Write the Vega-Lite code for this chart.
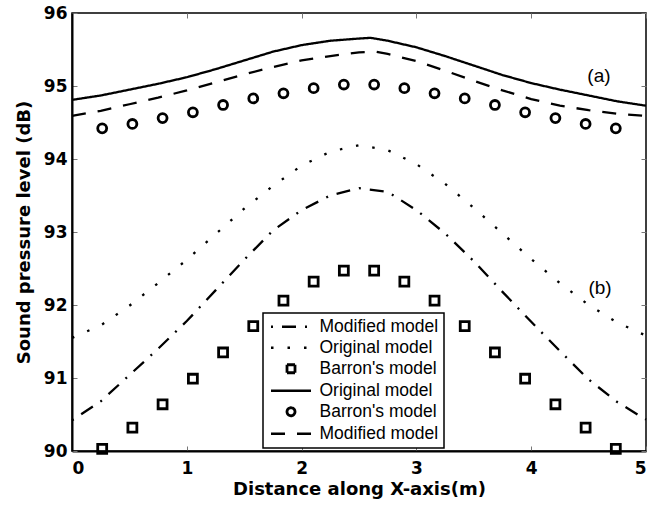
{
  "$schema": "https://vega.github.io/schema/vega-lite/v6.json",
  "width": 574,
  "height": 438,
  "autosize": "none",
  "padding": {"left": 72, "top": 13, "right": 14, "bottom": 55},
  "background": "white",
  "config": {
    "view": {"stroke": "black", "strokeWidth": 1.5},
    "axis": {
      "domainColor": "black", "domainWidth": 2,
      "tickColor": "#777", "tickWidth": 1, "tickSize": -5,
      "grid": false,
      "labelFont": "DejaVu Sans", "labelFontWeight": "bold", "labelFontSize": 17, "labelColor": "black",
      "titleFont": "DejaVu Sans", "titleFontWeight": "bold", "titleFontSize": 18, "titleColor": "black"
    },
    "legend": {
      "labelFont": "Liberation Sans", "labelFontSize": 17.5, "labelColor": "black"
    }
  },
  "datasets": {
    "lines": [
      {"s":"ao","x":0,"y":94.81},{"s":"ao","x":0.25,"y":94.87},{"s":"ao","x":0.5,"y":94.95},{"s":"ao","x":0.75,"y":95.03},{"s":"ao","x":1,"y":95.12},{"s":"ao","x":1.25,"y":95.23},{"s":"ao","x":1.5,"y":95.35},{"s":"ao","x":1.75,"y":95.47},{"s":"ao","x":2,"y":95.56},{"s":"ao","x":2.25,"y":95.62},{"s":"ao","x":2.5,"y":95.65},{"s":"ao","x":2.6,"y":95.66},{"s":"ao","x":2.75,"y":95.62},{"s":"ao","x":3,"y":95.53},{"s":"ao","x":3.25,"y":95.41},{"s":"ao","x":3.5,"y":95.28},{"s":"ao","x":3.75,"y":95.15},{"s":"ao","x":4,"y":95.04},{"s":"ao","x":4.25,"y":94.95},{"s":"ao","x":4.5,"y":94.87},{"s":"ao","x":4.75,"y":94.79},{"s":"ao","x":5,"y":94.73},
      {"s":"am","x":0,"y":94.59},{"s":"am","x":0.25,"y":94.66},{"s":"am","x":0.5,"y":94.75},{"s":"am","x":0.75,"y":94.84},{"s":"am","x":1,"y":94.94},{"s":"am","x":1.25,"y":95.05},{"s":"am","x":1.5,"y":95.16},{"s":"am","x":1.75,"y":95.26},{"s":"am","x":2,"y":95.35},{"s":"am","x":2.25,"y":95.41},{"s":"am","x":2.5,"y":95.46},{"s":"am","x":2.65,"y":95.47},{"s":"am","x":2.75,"y":95.44},{"s":"am","x":3,"y":95.34},{"s":"am","x":3.25,"y":95.21},{"s":"am","x":3.5,"y":95.07},{"s":"am","x":3.75,"y":94.94},{"s":"am","x":4,"y":94.82},{"s":"am","x":4.25,"y":94.73},{"s":"am","x":4.5,"y":94.67},{"s":"am","x":4.75,"y":94.62},{"s":"am","x":5,"y":94.59},
      {"s":"bo","x":0,"y":91.55},{"s":"bo","x":0.25,"y":91.72},{"s":"bo","x":0.5,"y":91.99},{"s":"bo","x":0.75,"y":92.3},{"s":"bo","x":1,"y":92.62},{"s":"bo","x":1.25,"y":92.97},{"s":"bo","x":1.5,"y":93.32},{"s":"bo","x":1.75,"y":93.63},{"s":"bo","x":2,"y":93.91},{"s":"bo","x":2.25,"y":94.1},{"s":"bo","x":2.5,"y":94.19},{"s":"bo","x":2.75,"y":94.12},{"s":"bo","x":3,"y":93.93},{"s":"bo","x":3.25,"y":93.66},{"s":"bo","x":3.5,"y":93.33},{"s":"bo","x":3.75,"y":92.98},{"s":"bo","x":4,"y":92.63},{"s":"bo","x":4.25,"y":92.3},{"s":"bo","x":4.5,"y":92.0},{"s":"bo","x":4.75,"y":91.76},{"s":"bo","x":5,"y":91.58},
      {"s":"bm","x":0,"y":90.42},{"s":"bm","x":0.25,"y":90.68},{"s":"bm","x":0.5,"y":91.04},{"s":"bm","x":0.75,"y":91.4},{"s":"bm","x":1,"y":91.78},{"s":"bm","x":1.25,"y":92.2},{"s":"bm","x":1.5,"y":92.62},{"s":"bm","x":1.75,"y":93.02},{"s":"bm","x":2,"y":93.3},{"s":"bm","x":2.25,"y":93.5},{"s":"bm","x":2.5,"y":93.6},{"s":"bm","x":2.75,"y":93.55},{"s":"bm","x":3,"y":93.3},{"s":"bm","x":3.25,"y":92.98},{"s":"bm","x":3.5,"y":92.6},{"s":"bm","x":3.75,"y":92.18},{"s":"bm","x":4,"y":91.77},{"s":"bm","x":4.25,"y":91.37},{"s":"bm","x":4.5,"y":90.98},{"s":"bm","x":4.75,"y":90.67},{"s":"bm","x":5,"y":90.43}
    ],
    "pts": [
      {"s":"ab","x":0.263,"y":94.42},{"s":"ab","x":0.526,"y":94.48},{"s":"ab","x":0.789,"y":94.56},{"s":"ab","x":1.053,"y":94.64},{"s":"ab","x":1.316,"y":94.74},{"s":"ab","x":1.579,"y":94.83},{"s":"ab","x":1.842,"y":94.9},{"s":"ab","x":2.105,"y":94.97},{"s":"ab","x":2.368,"y":95.02},{"s":"ab","x":2.632,"y":95.02},{"s":"ab","x":2.895,"y":94.97},{"s":"ab","x":3.158,"y":94.9},{"s":"ab","x":3.421,"y":94.83},{"s":"ab","x":3.684,"y":94.74},{"s":"ab","x":3.947,"y":94.64},{"s":"ab","x":4.211,"y":94.56},{"s":"ab","x":4.474,"y":94.48},{"s":"ab","x":4.737,"y":94.42},
      {"s":"bb","x":0.263,"y":90.03},{"s":"bb","x":0.526,"y":90.32},{"s":"bb","x":0.789,"y":90.64},{"s":"bb","x":1.053,"y":90.99},{"s":"bb","x":1.316,"y":91.35},{"s":"bb","x":1.579,"y":91.71},{"s":"bb","x":1.842,"y":92.06},{"s":"bb","x":2.105,"y":92.32},{"s":"bb","x":2.368,"y":92.47},{"s":"bb","x":2.632,"y":92.47},{"s":"bb","x":2.895,"y":92.32},{"s":"bb","x":3.158,"y":92.06},{"s":"bb","x":3.421,"y":91.71},{"s":"bb","x":3.684,"y":91.35},{"s":"bb","x":3.947,"y":90.99},{"s":"bb","x":4.211,"y":90.64},{"s":"bb","x":4.474,"y":90.32},{"s":"bb","x":4.737,"y":90.03}
    ],
    "notes": [
      {"x":4.59,"y":95.14,"t":"(a)"},
      {"x":4.6,"y":92.23,"t":"(b)"}
    ]
  },
  "resolve": {"axis": {"x": "independent", "y": "independent"}},
  "layer": [
    {
      "data": {"name": "lines"},
      "mark": {"type": "line", "color": "black", "strokeWidth": 2.3},
      "encoding": {
        "x": {"field": "x", "type": "quantitative", "scale": {"domain": [0, 5], "nice": false},
              "axis": {"values": [0,1,2,3,4,5], "title": "Distance along X-axis(m)", "labelPadding": 14, "titlePadding": 4}},
        "y": {"field": "y", "type": "quantitative", "scale": {"domain": [90, 96], "nice": false, "zero": false},
              "axis": {"values": [90,91,92,93,94,95,96], "title": "Sound pressure level (dB)", "labelPadding": 10, "titlePadding": 10}},
        "detail": {"field": "s"},
        "strokeDash": {
          "field": "s", "type": "nominal",
          "scale": {"domain": ["bm","bo","bb","ao","ab","am"],
                    "range": [[2,9,14,9],[2.5,14],[1,0],[1,0],[1,0],[14,12]]},
          "legend": {
            "title": null,
            "orient": "none", "legendX": 191, "legendY": 300,
            "direction": "vertical",
            "strokeColor": "black", "fillColor": "white",
            "padding": 5, "rowPadding": 2, "labelOffset": 34,
            "symbolSize": 1600, "symbolType": "stroke", "symbolStrokeColor": "black", "symbolStrokeWidth": 2.3,
            "labelExpr": "datum.value == 'bb' || datum.value == 'ab' ? \"Barron's model\" : (datum.value == 'bo' || datum.value == 'ao' ? 'Original model' : 'Modified model')",
            "encode": {
              "legend": {"update": {"strokeWidth": {"value": 1.5}}},
              "symbols": {
                "update": {
                  "x": {"value": 23},
                  "shape": {"signal": "datum.value == 'bb' ? 'square' : (datum.value == 'ab' ? 'circle' : 'stroke')"},
                  "size": {"signal": "(datum.value == 'bb' || datum.value == 'ab') ? 64 : 1600"},
                  "strokeWidth": {"signal": "(datum.value == 'bb' || datum.value == 'ab') ? 2.8 : 2.3"},
                  "fill": {"value": "transparent"},
                  "stroke": {"value": "black"},
                  "opacity": {"value": 1}
                }
              }
            }
          }
        }
      }
    },
    {
      "data": {"name": "pts"},
      "mark": {"type": "point", "filled": false, "color": "black", "opacity": 1, "strokeWidth": 2.8, "size": 80},
      "encoding": {
        "x": {"field": "x", "type": "quantitative", "axis": null},
        "y": {"field": "y", "type": "quantitative", "axis": null},
        "shape": {"field": "s", "type": "nominal", "scale": {"domain": ["bb","ab"], "range": ["square","circle"]}, "legend": null}
      }
    },
    {
      "data": {"name": "notes"},
      "mark": {"type": "text", "font": "Liberation Sans", "fontSize": 19, "color": "black"},
      "encoding": {
        "x": {"field": "x", "type": "quantitative",
              "axis": {"orient": "top", "values": [0,1,2,3,4,5], "labels": false, "domain": false, "title": null}},
        "y": {"field": "y", "type": "quantitative",
              "axis": {"orient": "right", "values": [90,91,92,93,94,95,96], "labels": false, "domain": false, "title": null}},
        "text": {"field": "t"}
      }
    }
  ]
}
